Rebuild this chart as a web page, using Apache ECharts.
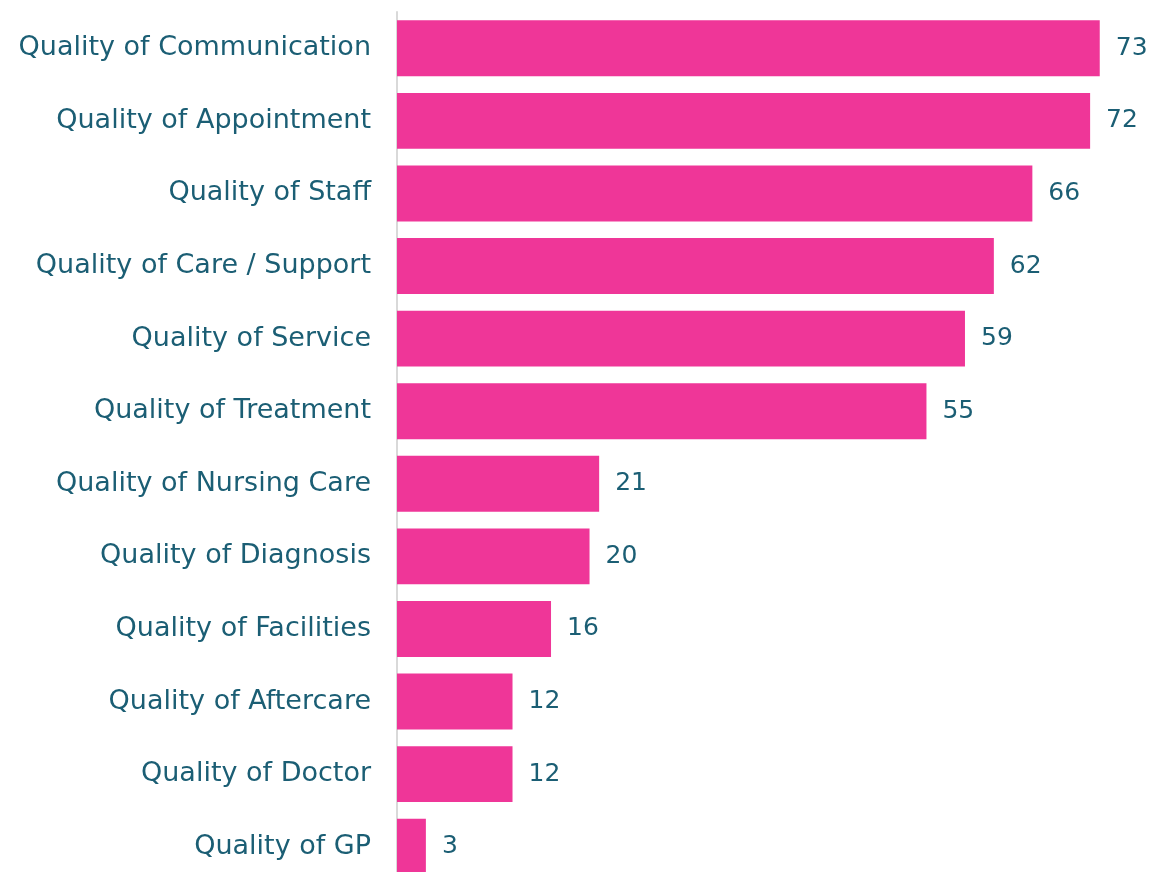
<!DOCTYPE html>
<html>
<head>
<meta charset="utf-8">
<script src="https://cdn.jsdelivr.net/npm/echarts@6/dist/echarts.min.js"></script>
<style>
  html, body { margin: 0; padding: 0; background: #fff; }
  #chart { width: 1151px; height: 872px; }
</style>
</head>
<body>
<div id="chart"></div>
<script>
// categories top to bottom
const categories = [
  'Quality of Communication',
  'Quality of Appointment',
  'Quality of Staff',
  'Quality of Care / Support',
  'Quality of Service',
  'Quality of Treatment',
  'Quality of Nursing Care',
  'Quality of Diagnosis',
  'Quality of Facilities',
  'Quality of Aftercare',
  'Quality of Doctor',
  'Quality of GP'
];
const counts = [73, 72, 66, 62, 59, 55, 21, 20, 16, 12, 12, 3];

const textColor = '#1B5E74';
const chart = echarts.init(document.getElementById('chart'));

chart.setOption({
  animation: false,
  backgroundColor: '#ffffff',
  grid: {
    left: 397,
    right: 32,
    top: 12,
    height: 871,
    containLabel: false,
    outerBoundsMode: 'none'
  },
  xAxis: {
    type: 'value',
    min: 0,
    max: 75,
    show: false
  },
  yAxis: {
    type: 'category',
    inverse: true,
    data: categories,
    axisLine: { show: true, lineStyle: { color: '#d9d9d9', width: 2 } },
    axisTick: { show: false },
    axisLabel: {
      color: textColor,
      fontFamily: 'DejaVu Sans',
      fontSize: 27,
      margin: 26
    }
  },
  series: [{
    type: 'bar',
    data: counts,
    barCategoryGap: '23%',
    itemStyle: { color: '#EF3698' },
    label: {
      show: true,
      position: 'right',
      distance: 16,
      color: textColor,
      fontFamily: 'DejaVu Sans',
      fontSize: 25
    }
  }]
});
</script>
</body>
</html>
